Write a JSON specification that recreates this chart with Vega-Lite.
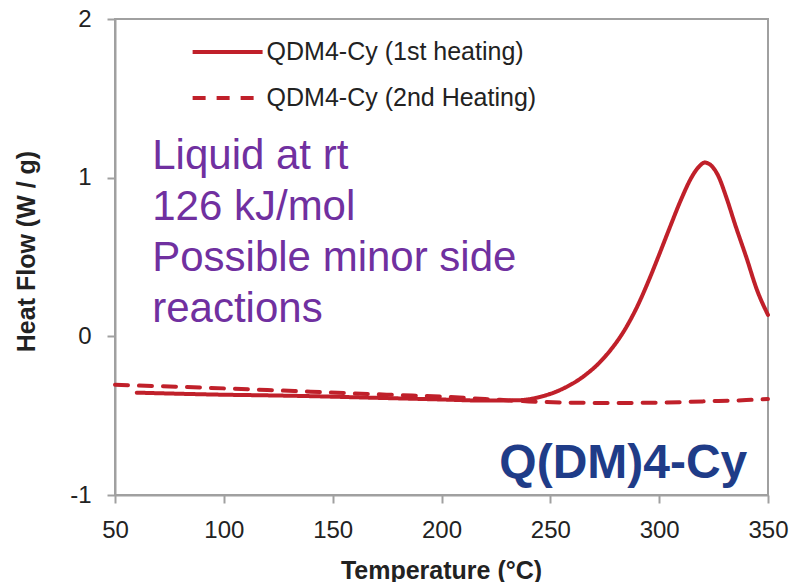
{
  "$schema": "https://vega.github.io/schema/vega-lite/v6.json",
  "width": 653,
  "height": 476,
  "autosize": {"type": "none"},
  "padding": {"left": 115, "top": 19, "right": 26, "bottom": 87},
  "background": "white",
  "config": {
    "font": "Liberation Sans",
    "view": {"stroke": "#A0A0A0", "strokeWidth": 2},
    "axis": {
      "grid": false,
      "domainColor": "#A0A0A0",
      "domainWidth": 2,
      "tickColor": "#A0A0A0",
      "tickWidth": 2,
      "tickSize": 8,
      "labelFont": "Liberation Sans",
      "labelFontSize": 24,
      "labelColor": "#222222",
      "titleFont": "Liberation Sans",
      "titleFontSize": 25,
      "titleFontWeight": "bold",
      "titleColor": "#222222"
    }
  },
  "datasets": {
    "curves": [
      {"series": "QDM4-Cy (1st heating)", "temp": 60, "flow": -0.355},
      {"series": "QDM4-Cy (1st heating)", "temp": 80, "flow": -0.362},
      {"series": "QDM4-Cy (1st heating)", "temp": 100, "flow": -0.368},
      {"series": "QDM4-Cy (1st heating)", "temp": 120, "flow": -0.372},
      {"series": "QDM4-Cy (1st heating)", "temp": 140, "flow": -0.377},
      {"series": "QDM4-Cy (1st heating)", "temp": 160, "flow": -0.384},
      {"series": "QDM4-Cy (1st heating)", "temp": 180, "flow": -0.391},
      {"series": "QDM4-Cy (1st heating)", "temp": 200, "flow": -0.398},
      {"series": "QDM4-Cy (1st heating)", "temp": 220, "flow": -0.405},
      {"series": "QDM4-Cy (1st heating)", "temp": 235, "flow": -0.403},
      {"series": "QDM4-Cy (1st heating)", "temp": 245, "flow": -0.383},
      {"series": "QDM4-Cy (1st heating)", "temp": 255, "flow": -0.335},
      {"series": "QDM4-Cy (1st heating)", "temp": 265, "flow": -0.255},
      {"series": "QDM4-Cy (1st heating)", "temp": 275, "flow": -0.13},
      {"series": "QDM4-Cy (1st heating)", "temp": 285, "flow": 0.06},
      {"series": "QDM4-Cy (1st heating)", "temp": 290, "flow": 0.19},
      {"series": "QDM4-Cy (1st heating)", "temp": 295, "flow": 0.345},
      {"series": "QDM4-Cy (1st heating)", "temp": 300, "flow": 0.515},
      {"series": "QDM4-Cy (1st heating)", "temp": 305, "flow": 0.69},
      {"series": "QDM4-Cy (1st heating)", "temp": 310, "flow": 0.86},
      {"series": "QDM4-Cy (1st heating)", "temp": 315, "flow": 1.005},
      {"series": "QDM4-Cy (1st heating)", "temp": 318, "flow": 1.065},
      {"series": "QDM4-Cy (1st heating)", "temp": 321, "flow": 1.095},
      {"series": "QDM4-Cy (1st heating)", "temp": 324, "flow": 1.075},
      {"series": "QDM4-Cy (1st heating)", "temp": 327, "flow": 1.015},
      {"series": "QDM4-Cy (1st heating)", "temp": 331, "flow": 0.87},
      {"series": "QDM4-Cy (1st heating)", "temp": 335, "flow": 0.70},
      {"series": "QDM4-Cy (1st heating)", "temp": 340, "flow": 0.50},
      {"series": "QDM4-Cy (1st heating)", "temp": 345, "flow": 0.29},
      {"series": "QDM4-Cy (1st heating)", "temp": 350, "flow": 0.135},
      {"series": "QDM4-Cy (2nd Heating)", "temp": 50, "flow": -0.305},
      {"series": "QDM4-Cy (2nd Heating)", "temp": 60, "flow": -0.31},
      {"series": "QDM4-Cy (2nd Heating)", "temp": 80, "flow": -0.318},
      {"series": "QDM4-Cy (2nd Heating)", "temp": 100, "flow": -0.328},
      {"series": "QDM4-Cy (2nd Heating)", "temp": 120, "flow": -0.338},
      {"series": "QDM4-Cy (2nd Heating)", "temp": 140, "flow": -0.349},
      {"series": "QDM4-Cy (2nd Heating)", "temp": 160, "flow": -0.36},
      {"series": "QDM4-Cy (2nd Heating)", "temp": 180, "flow": -0.37},
      {"series": "QDM4-Cy (2nd Heating)", "temp": 200, "flow": -0.38},
      {"series": "QDM4-Cy (2nd Heating)", "temp": 220, "flow": -0.395},
      {"series": "QDM4-Cy (2nd Heating)", "temp": 240, "flow": -0.41},
      {"series": "QDM4-Cy (2nd Heating)", "temp": 260, "flow": -0.418},
      {"series": "QDM4-Cy (2nd Heating)", "temp": 280, "flow": -0.42},
      {"series": "QDM4-Cy (2nd Heating)", "temp": 300, "flow": -0.418},
      {"series": "QDM4-Cy (2nd Heating)", "temp": 320, "flow": -0.41},
      {"series": "QDM4-Cy (2nd Heating)", "temp": 340, "flow": -0.402},
      {"series": "QDM4-Cy (2nd Heating)", "temp": 350, "flow": -0.395}
    ],
    "notes": [
      {"temp": 67.1, "flow": 1.054, "text": "Liquid at rt\n126 kJ/mol\nPossible minor side\nreactions"}
    ],
    "label": [
      {"temp": 340.5, "flow": -0.893, "text": "Q(DM)4-Cy"}
    ]
  },
  "layer": [
    {
      "data": {"name": "curves"},
      "mark": {"type": "line", "strokeWidth": 4, "strokeCap": "round", "strokeJoin": "round", "interpolate": "monotone"},
      "encoding": {
        "x": {
          "field": "temp", "type": "quantitative",
          "scale": {"domain": [50, 350], "nice": false, "zero": false},
          "axis": {"values": [50, 100, 150, 200, 250, 300, 350], "title": "Temperature (°C)", "labelPadding": 15, "titleX": 326, "titleY": 83, "titleBaseline": "alphabetic", "titleAnchor": "middle", "labelFlush": false}
        },
        "y": {
          "field": "flow", "type": "quantitative",
          "scale": {"domain": [-1, 2], "nice": false, "zero": false},
          "axis": {"values": [-1, 0, 1, 2], "title": "Heat Flow (W / g)", "labelPadding": 16, "labelExpr": "'' + datum.value", "titleX": -89, "titleY": 232, "titleBaseline": "middle", "titleAngle": -90, "titleAnchor": "middle", "labelFlush": false}
        },
        "color": {
          "field": "series", "type": "nominal",
          "scale": {"domain": ["QDM4-Cy (1st heating)", "QDM4-Cy (2nd Heating)"], "range": ["#C0202A", "#C0202A"]},
          "legend": {
            "title": null,
            "orient": "none",
            "legendX": 98.6,
            "legendY": 19,
            "padding": 0,
            "symbolType": "M-3,0H3",
            "symbolSize": 544,
            "symbolStrokeWidth": 4,
            "labelOffset": 25,
            "labelFontSize": 25,
            "labelColor": "#222222",
            "labelFont": "Liberation Sans",
            "rowPadding": 19,
            "labelLimit": 400
          }
        },
        "strokeDash": {
          "field": "series", "type": "nominal",
          "scale": {"domain": ["QDM4-Cy (1st heating)", "QDM4-Cy (2nd Heating)"], "range": [[1, 0], [13, 11]]},
          "legend": {
            "title": null,
            "orient": "none",
            "legendX": 98.6,
            "legendY": 19,
            "padding": 0,
            "symbolType": "M-3,0H3",
            "symbolSize": 544,
            "symbolStrokeWidth": 4,
            "labelOffset": 25,
            "labelFontSize": 25,
            "labelColor": "#222222",
            "labelFont": "Liberation Sans",
            "rowPadding": 19,
            "labelLimit": 400
          }
        }
      }
    },
    {
      "data": {"name": "notes"},
      "mark": {"type": "text", "align": "left", "baseline": "alphabetic", "fontSize": 42, "lineBreak": "\n", "lineHeight": 51, "color": "#7030A0", "font": "Liberation Sans"},
      "encoding": {
        "x": {"field": "temp", "type": "quantitative"},
        "y": {"field": "flow", "type": "quantitative"},
        "text": {"field": "text"}
      }
    },
    {
      "data": {"name": "label"},
      "mark": {"type": "text", "align": "right", "baseline": "alphabetic", "fontSize": 48, "fontWeight": "bold", "color": "#1F3C88", "font": "Liberation Sans"},
      "encoding": {
        "x": {"field": "temp", "type": "quantitative"},
        "y": {"field": "flow", "type": "quantitative"},
        "text": {"field": "text"}
      }
    }
  ]
}
